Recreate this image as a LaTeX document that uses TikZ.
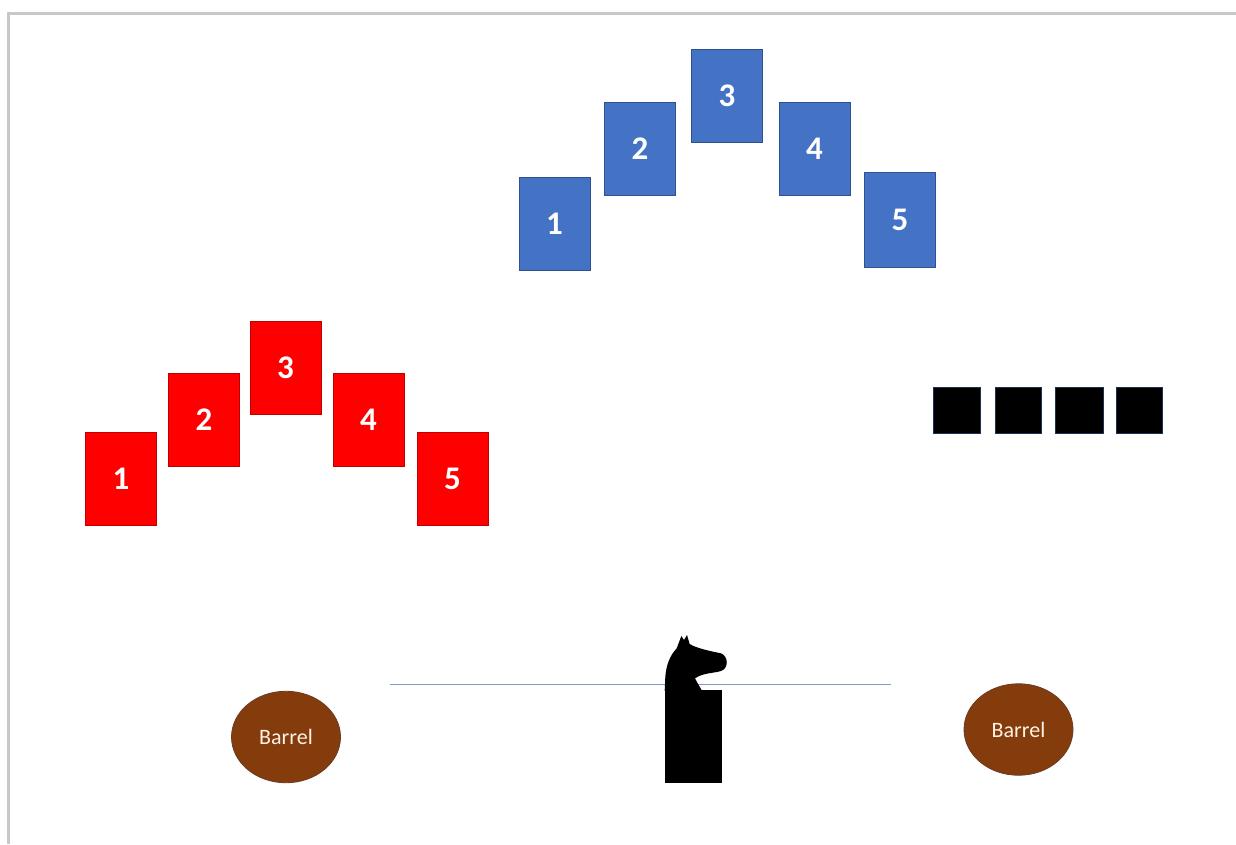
\documentclass[tikz,border=0pt]{standalone}
\usepackage{fontspec}
\setmainfont{Carlito}
\usetikzlibrary{shapes.geometric}
\definecolor{cardblue}{HTML}{4472C4}
\definecolor{cardedge}{HTML}{2F528F}
\definecolor{barrelbrown}{HTML}{843C0C}
\definecolor{barreledge}{HTML}{6B3A22}
\definecolor{rulegray}{HTML}{C8C8C8}
\definecolor{linkblue}{HTML}{7F9CC4}
\tikzset{
  card/.style={rectangle,draw=cardedge,line width=0.8pt,minimum width=71pt,minimum height=93pt,inner sep=0pt,text=white,font=\fontsize{33}{33}\selectfont\bfseries},
  bluecard/.style={card,fill=cardblue},
  redcard/.style={card,fill=red,draw=red!75!black},
  blacksq/.style={rectangle,fill=black,draw=cardedge!60!black,line width=0.6pt,minimum width=46.5pt,minimum height=46pt,inner sep=0pt},
  barrel/.style={ellipse,fill=barrelbrown,draw=barreledge,line width=0.8pt,minimum width=109pt,minimum height=91.5pt,inner sep=0pt,text=white!90!orange,font=\fontsize{22}{22}\selectfont},
}
\begin{document}
\begin{tikzpicture}[x=1pt,y=-1pt]
\useasboundingbox (0,0) rectangle (1236,844);
\fill[white] (0,0) rectangle (1236,844);
\draw[rulegray,line width=3pt] (8.5,844) -- (8.5,13.5) -- (1236,13.5);
% blue cards
\node[bluecard] (b1) at (554.5,224) {1};
\node[bluecard] (b2) at (640,148.5) {2};
\node[bluecard] (b3) at (727,95.5) {3};
\node[bluecard] (b4) at (814.5,148.5) {4};
\node[bluecard,minimum height=95pt] (b5) at (900,219.5) {5};
% red cards
\node[redcard] (r1) at (121,479) {1};
\node[redcard] (r2) at (204,420) {2};
\node[redcard] (r3) at (285.5,368) {3};
\node[redcard] (r4) at (368.5,420) {4};
\node[redcard] (r5) at (452.5,479) {5};
% black squares
\node[blacksq] (s1) at (957,410) {};
\node[blacksq] (s2) at (1018.5,410) {};
\node[blacksq,minimum width=48pt] (s3) at (1079,410) {};
\node[blacksq] (s4) at (1139.5,410) {};
% line
\coordinate (la) at (390,684);
\coordinate (lb) at (891,684);
\draw[linkblue,line width=1pt] (la) -- (lb);
% horse
\begin{scope}[shift={(620,620)},scale=1/3]
\fill[black] (134,212) -- (136,170) .. controls (138,140) and (148,108) .. (170,85)
 -- (184,48) -- (192,60) -- (201,45) -- (209,72)
 .. controls (230,85) and (270,93) .. (303,100)
 .. controls (325,108) and (327,145) .. (303,153)
 .. controls (280,160) and (250,158) .. (225,175)
 -- (233,190) -- (246,212) -- cycle;
\end{scope}
\node[rectangle,fill=black,minimum width=57.5pt,minimum height=93pt,inner sep=0pt] (post) at (693.3,736.5) {};
% barrels
\node[barrel] (bl) at (286,737) {Barrel};
\node[barrel] (br) at (1018.5,729.5) {Barrel};
\end{tikzpicture}
\end{document}
